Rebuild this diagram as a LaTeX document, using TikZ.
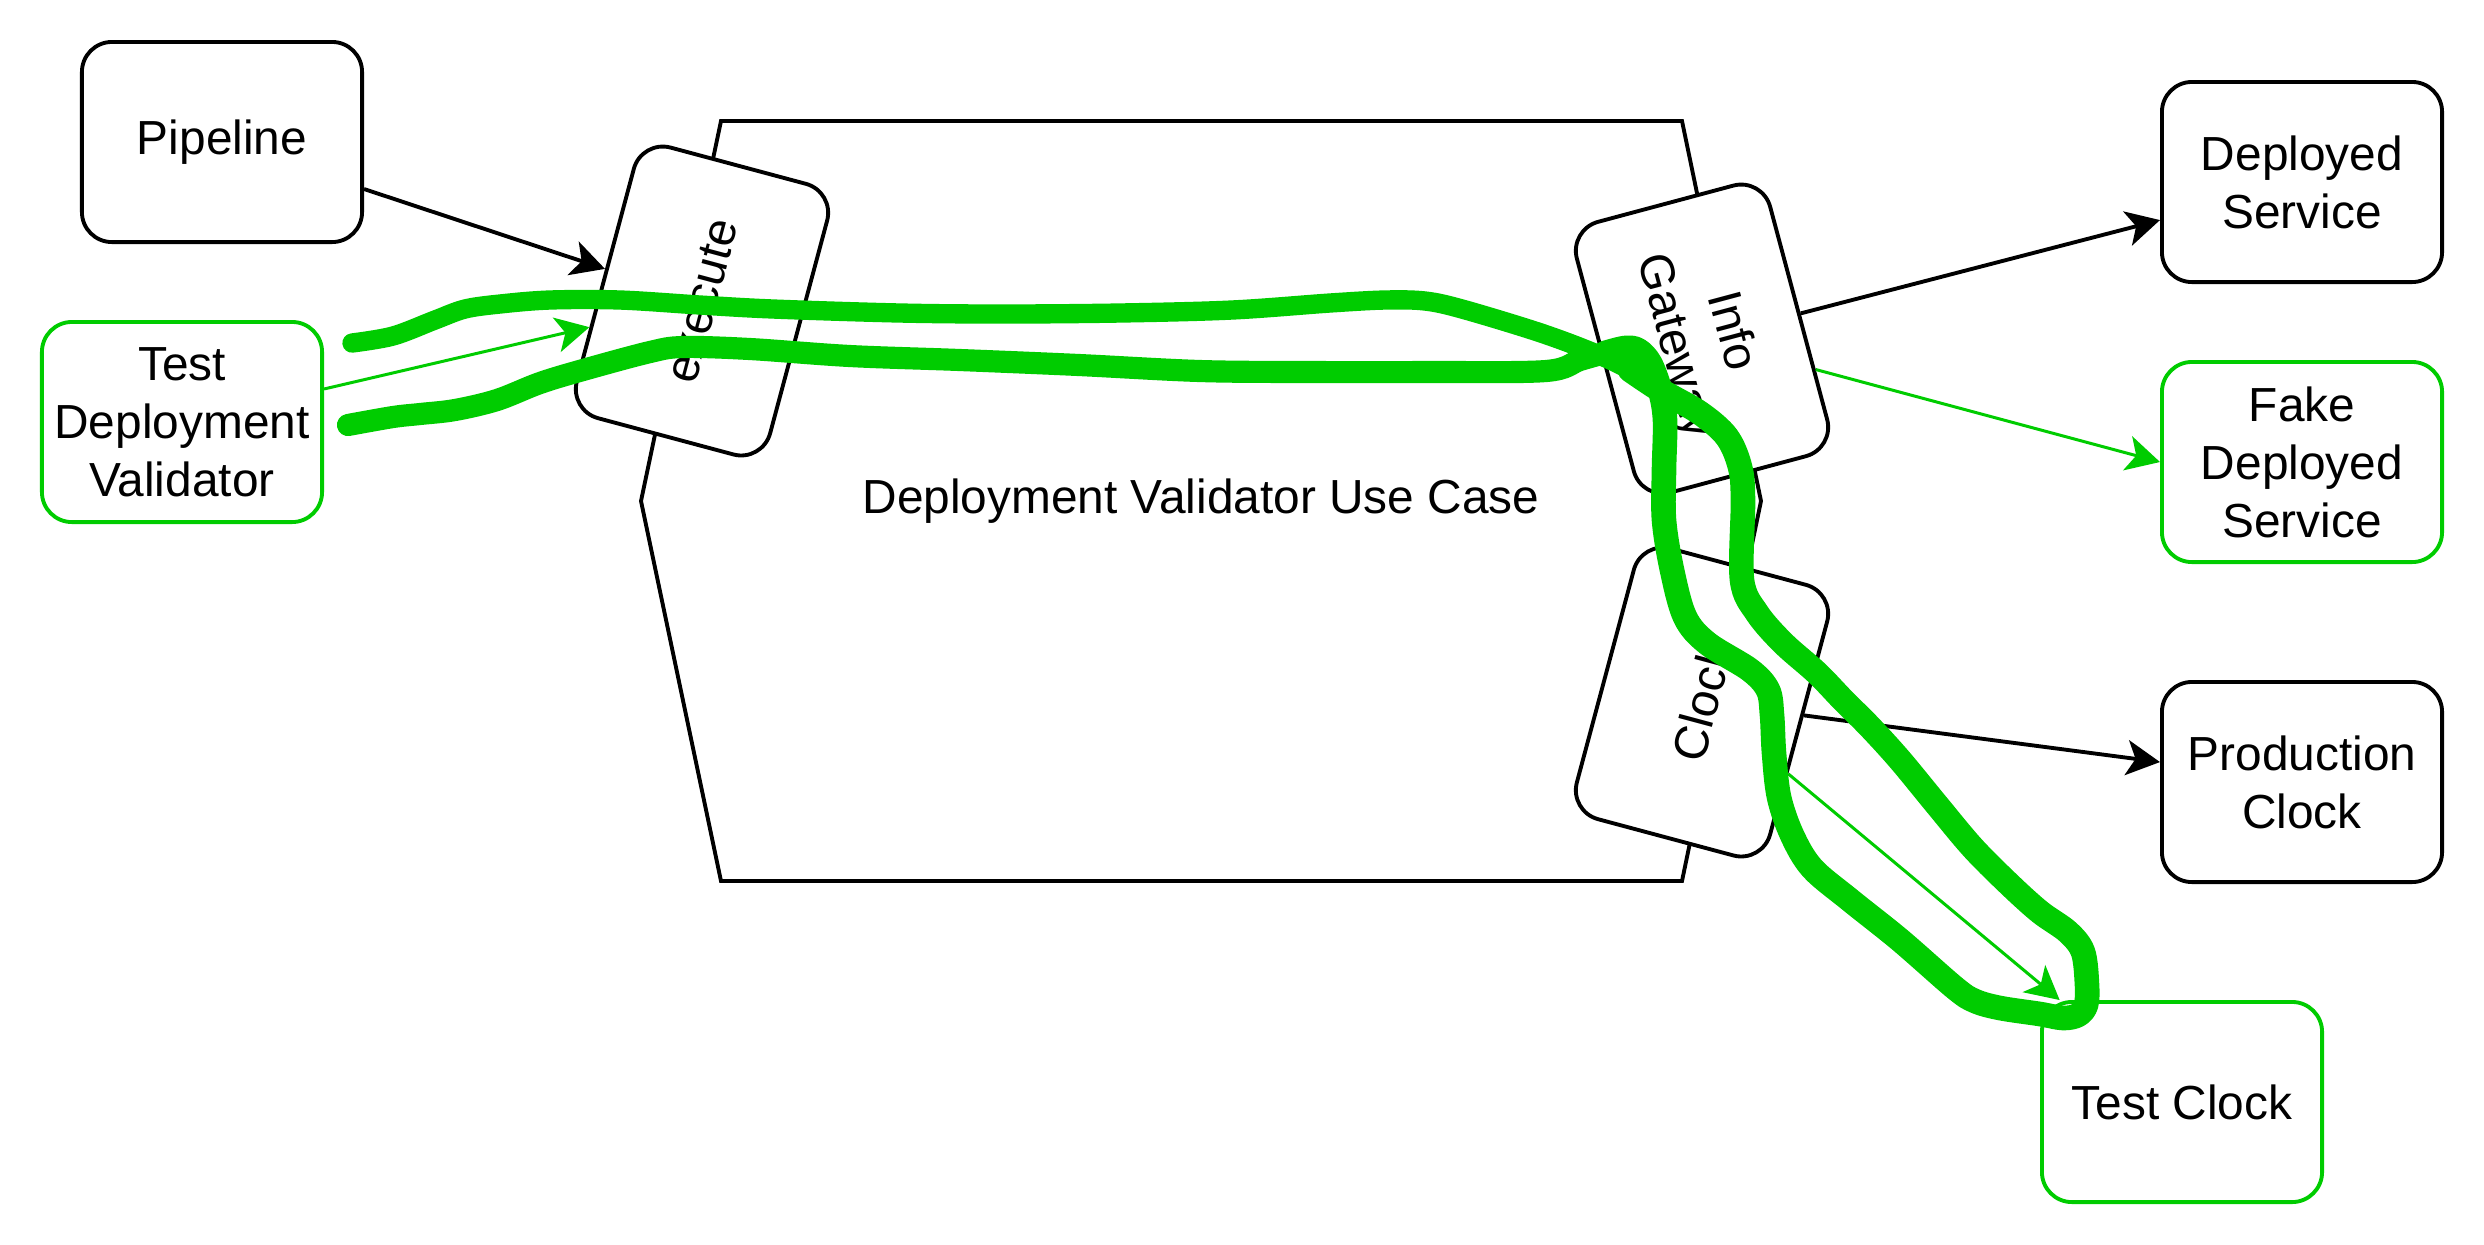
\documentclass[tikz,border=0pt]{standalone}
\usepackage{fontspec}
\setmainfont{Liberation Sans}
\usetikzlibrary{arrows.meta}
\definecolor{grn}{HTML}{00CC00}
\newcommand{\fsz}{\fontsize{13.6}{16.5}\selectfont}
\begin{document}
\begin{tikzpicture}[x=0.01cm, y=-0.01cm,
  box/.style={draw=black, line width=1.1pt, rounded corners=0.3cm, minimum width=2.8cm, minimum height=2cm, fill=white, align=center, inner sep=0pt, font=\fsz},
  gbox/.style={box, draw=grn},
  tip/.style={-{Stealth[length=9.5pt,width=10pt,inset=2.5pt]}},
  conn/.style={tip, draw=black, line width=1.1pt},
  gconn/.style={tip, draw=grn, line width=0.85pt},
  scribble/.style={draw=grn, line width=6pt, line cap=round, line join=round}
]
\useasboundingbox (0,0) rectangle (2484,1244);

% use case hexagon
\draw[line width=1.1pt, fill=white] (721,121) -- (1682,121) -- (1761,501) -- (1682,881) -- (721,881) -- (641,501) -- cycle;
\node[font=\fsz] (uc) at (1201,501) {Deployment Validator Use Case};

% outer boxes
\node[box] (pipe) at (222,142) {Pipeline};
\node[gbox] (tdv) at (182,422) {Test\\Deployment\\Validator};
\node[box] (ds) at (2302,182) {Deployed\\Service};
\node[gbox] (fds) at (2302,462) {Fake\\Deployed\\Service};
\node[box] (pc) at (2302,782) {Production\\Clock};
\node[gbox] (tc) at (2182,1102) {Test Clock};

% ports
\node[box, rotate=75] (exe) at (702,301) {execute};
\node[box, rotate=-75] (info) at (1702,339) {Info\\Gateway};
\node[box, rotate=75] (clk) at (1702,702) {Clock};

% connectors
\draw[conn] (pipe) -- (exe);
\draw[gconn] (tdv) -- (exe);
\draw[conn] (info) -- (ds.195);
\draw[gconn] (info) -- (fds.west);
\draw[conn] (clk) -- (pc.172);
\draw[gconn] (clk) -- (tc);

% freehand green scribble (top run, thinner)
\draw[scribble, line width=5.5pt] plot[smooth, tension=0.55] coordinates {
(352,343) (393,336) (435,320) (465,309) (500,304) (550,300) (620,300) (700,305)
(773,309) (900,313) (1003,314) (1120,313) (1232,310) (1330,303) (1385,300)
(1425,301) (1462,309) (1538,332) (1592,352) (1630,370) (1660,390)
};
% right-hand loop, thicker
\draw[scribble, line width=7pt] plot[smooth, tension=0.55] coordinates {
(1630,370) (1660,390) (1700,413)
(1727,437) (1740,467) (1743,500) (1742,580) (1757,613) (1783,643) (1817,673)
(1843,700) (1870,727) (1900,760) (1937,805) (1973,848) (2010,885) (2040,912)
(2068,932) (2083,952) (2087,985) (2086,1005) (2078,1015) (2063,1018) (2040,1014)
(2000,1008) (1975,1001) (1955,988) (1900,940) (1850,900) (1812,868) (1792,835)
(1779,797) (1774,753) (1772,715) (1768,690) (1750,670) (1707,643) (1685,617)
(1672,570) (1664,520) (1664,470) (1665,420) (1660,390) (1650,363) (1638,350)
(1625,348) (1605,353)
};
% lower return run
\draw[scribble, line width=6.3pt] plot[smooth, tension=0.55] coordinates {
(1625,348) (1605,353) (1580,360) (1546,371) (1430,372) (1309,372) (1200,371)
(1079,365) (960,360) (850,356) (750,349) (683,347) (650,352) (583,370) (540,383)
(497,400) (455,410) (420,414) (393,417) (348,425)
};
\end{tikzpicture}
\end{document}
